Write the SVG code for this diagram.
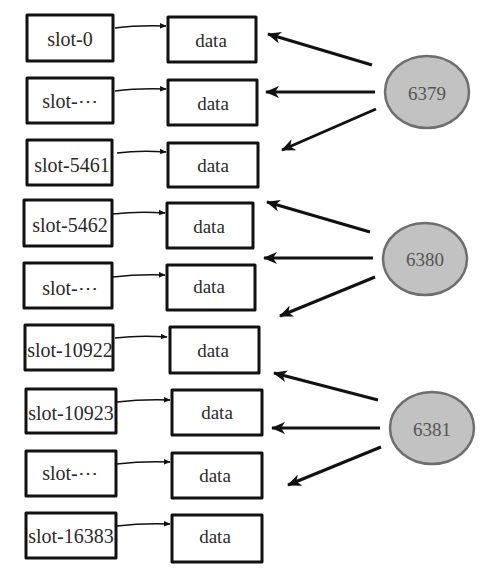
<svg xmlns="http://www.w3.org/2000/svg" width="492" height="578" viewBox="0 0 492 578">
<style>
.box{fill:#fff;stroke:#111;stroke-width:3;stroke-linejoin:round}
text{font-family:'Liberation Serif','Times New Roman','DejaVu Serif',serif;font-size:19px;text-anchor:middle}
.t{fill:#2a2a2a}
.s{font-size:20px}
.ct{fill:#555}
.srv{fill:#c2c2c2;stroke:#6e6e6e;stroke-width:2.5}
.small{fill:none;stroke:#111;stroke-width:1.5;marker-end:url(#sm)}
.big{fill:none;stroke:#111;stroke-width:3;marker-end:url(#lg)}
</style>
<defs>
<marker id="sm" viewBox="0 0 10 10" refX="9" refY="5" markerWidth="7" markerHeight="7" markerUnits="userSpaceOnUse" orient="auto">
<path d="M0,1 L10,5 L0,9 z" fill="#111"/>
</marker>
<marker id="lg" viewBox="0 0 14 12" refX="13" refY="6" markerWidth="14" markerHeight="12" markerUnits="userSpaceOnUse" orient="auto">
<path d="M0,0 L14,6 L0,12 L4,6 z" fill="#111"/>
</marker>
</defs>
<rect width="492" height="578" fill="#fff"/>
<g id="slot-0"><rect class="box" x="27" y="15" width="86" height="46"/><text class="t s" x="70" y="46">slot-0</text></g>
<g id="data-1"><rect class="box" x="168" y="17" width="88" height="45"/><text class="t" x="211" y="47">data</text></g>
<g id="slot-a"><rect class="box" x="27" y="78" width="86" height="45"/><text class="t s" x="70" y="108">slot-⋯</text></g>
<g id="data-2"><rect class="box" x="168" y="80" width="89" height="45"/><text class="t" x="213" y="110">data</text></g>
<g id="slot-5461"><rect class="box" x="27" y="140" width="85" height="45"/><text class="t s" x="72" y="172">slot-5461</text></g>
<g id="data-3"><rect class="box" x="168" y="143" width="90" height="44"/><text class="t" x="213" y="172">data</text></g>
<g id="slot-5462"><rect class="box" x="24" y="200" width="88" height="46"/><text class="t s" x="70" y="232">slot-5462</text></g>
<g id="data-4"><rect class="box" x="167" y="203" width="86" height="45"/><text class="t" x="209" y="233">data</text></g>
<g id="slot-b"><rect class="box" x="24" y="263" width="88" height="45"/><text class="t s" x="70" y="295">slot-⋯</text></g>
<g id="data-5"><rect class="box" x="167" y="265" width="88" height="45"/><text class="t" x="209" y="293">data</text></g>
<g id="slot-10922"><rect class="box" x="25" y="325" width="88" height="45"/><text class="t s" x="70" y="357">slot-10922</text></g>
<g id="data-6"><rect class="box" x="170" y="327" width="89" height="46"/><text class="t" x="213" y="357">data</text></g>
<g id="slot-10923"><rect class="box" x="26" y="389" width="90" height="44"/><text class="t s" x="71" y="420">slot-10923</text></g>
<g id="data-7"><rect class="box" x="172" y="390" width="90" height="45"/><text class="t" x="217" y="419">data</text></g>
<g id="slot-c"><rect class="box" x="26" y="451" width="90" height="45"/><text class="t s" x="70" y="480">slot-⋯</text></g>
<g id="data-8"><rect class="box" x="172" y="453" width="90" height="45"/><text class="t" x="215" y="482">data</text></g>
<g id="slot-16383"><rect class="box" x="26" y="513" width="90" height="45"/><text class="t s" x="71" y="543">slot-16383</text></g>
<g id="data-9"><rect class="box" x="172" y="515" width="90" height="47"/><text class="t" x="215" y="543">data</text></g>
<g id="n6379"><ellipse class="srv" cx="427" cy="92" rx="42" ry="36"/><text class="ct" x="427" y="100">6379</text></g>
<g id="n6380"><ellipse class="srv" cx="425" cy="259" rx="42" ry="36"/><text class="ct" x="425" y="266">6380</text></g>
<g id="n6381"><ellipse class="srv" cx="432" cy="428" rx="42" ry="36"/><text class="ct" x="432" y="436">6381</text></g>
<g id="connectors">
<path class="small" d="M115,28 Q138,25 166,26"/>
<path class="small" d="M115,91 Q138,88 166,89"/>
<path class="small" d="M117,153 Q140,150 166,152"/>
<path class="small" d="M113,214 Q138,211 165,213"/>
<path class="small" d="M113,277 Q138,274 165,275"/>
<path class="small" d="M115,338 Q140,335 167,337"/>
<path class="small" d="M117,402 Q142,399 170,400"/>
<path class="small" d="M117,464 Q142,461 170,462"/>
<path class="small" d="M117,526 Q142,523 170,524"/>
<path class="big" d="M372,65 L268,34"/>
<path class="big" d="M375,92 L266,92"/>
<path class="big" d="M376,109 L282,150"/>
<path class="big" d="M370,232 L267,202"/>
<path class="big" d="M373,258 L264,258"/>
<path class="big" d="M375,277 L280,316"/>
<path class="big" d="M378,400 L274,373"/>
<path class="big" d="M380,428 L272,428"/>
<path class="big" d="M381,447 L288,485"/>
</g>
</svg>
